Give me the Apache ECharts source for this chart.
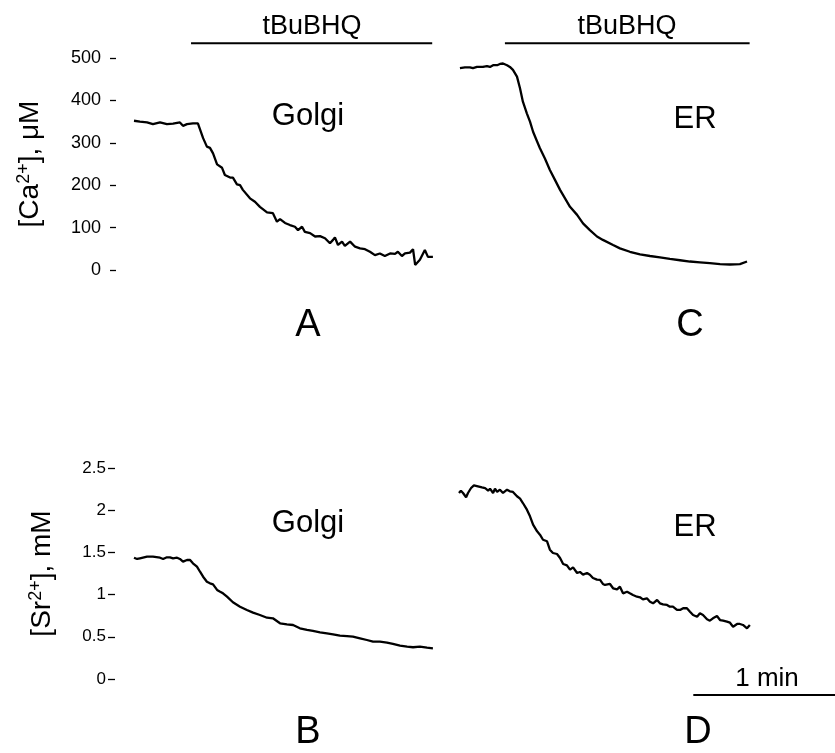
<!DOCTYPE html>
<html>
<head>
<meta charset="utf-8">
<script src="https://cdn.jsdelivr.net/npm/echarts@6/dist/echarts.min.js"></script>
<style>html,body{margin:0;padding:0;background:#fff}#c{width:835px;height:753px}</style>
</head>
<body>
<div id="c"></div>
<script>
// ---- data (time in s from trace start) ----
const timesA = [0,2.5,5.5,8.0,11.0,13.9,16.5,19.4,20.7,22.4,24.9,27.0,29.2,30.8,32.1,33.4,35.1,37.2,38.4,40.6,41.8,43.5,44.8,46.0,49.0,51.1,53.2,56.2,58.7,60.4,61.7,63.8,65.9,68.0,69.3,71.0,72.2,74.4,76.5,78.6,80.7,82.8,84.1,84.9,86.2,87.9,89.1,91.3,93.4,95.5,97.6,99.7,101.8,103.9,106.0,108.2,110.3,111.5,113.2,114.5,116.6,117.9,118.8,120.8,122.9,124.2,126.3];
const caGolgi = [352,350,348,344,348,344,345,348,340,344,346,346,311,291,288,275,249,241,224,218,218,202,200,189,169,161,149,136,134,114,120,111,106,102,94,102,90,87,79,80,75,63,71,77,59,67,57,67,55,51,49,43,35,39,33,39,38,43,33,39,41,49,12,24,47,31,31];

const timesC = [0.4,2.5,4.6,5.9,7.6,10.1,11.8,13.1,14.4,16.1,17.3,18.6,20.3,21.5,22.8,24.5,25.8,27.0,28.7,30.0,31.3,33.0,34.2,36.3,38.4,40.6,42.7,44.8,46.9,49.9,52.4,55.3,58.3,60.8,65.1,68.0,72.2,76.5,80.7,84.9,89.1,93.4,97.6,101.8,106.0,110.3,114.5,118.7,121.7];
const caER = [476,478,478,476,479,479,481,479,483,483,486,487,483,479,472,456,428,397,369,350,326,303,287,263,236,212,189,169,149,130,110,94,79,71,59,51,43,37,33,30,26,23,20,18,16,14,13,14,20];

const timesB = [0,1.3,2.5,5.5,8.0,11.0,12.3,13.9,15.2,16.5,18.2,19.4,20.7,22.4,23.7,24.9,26.6,27.9,29.2,30.8,32.1,33.4,35.1,36.4,37.6,39.3,41.8,44.8,47.7,50.3,53.2,56.2,58.7,61.7,64.6,67.2,70.1,73.1,75.6,78.6,81.5,84.1,87.0,90.0,92.5,95.5,98.4,101.0,103.9,106.9,109.4,112.4,115.4,117.9,120.8,123.8,126.3];
const srGolgi = [1.437,1.422,1.43,1.449,1.449,1.437,1.422,1.442,1.442,1.43,1.437,1.422,1.39,1.41,1.41,1.371,1.331,1.271,1.212,1.153,1.134,1.122,1.055,1.034,1.015,0.975,0.909,0.857,0.818,0.786,0.758,0.726,0.719,0.66,0.648,0.64,0.601,0.581,0.569,0.553,0.541,0.53,0.513,0.509,0.501,0.482,0.462,0.442,0.442,0.43,0.415,0.395,0.383,0.376,0.383,0.371,0.364];

const timesD = [0,0.8,1.7,3.0,3.8,5.1,6.3,8.0,9.7,11.0,12.3,13.1,14.4,15.2,16.1,17.3,18.6,20.3,21.5,22.8,24.5,25.8,27.0,28.7,30.0,31.3,33.0,34.2,35.5,37.2,38.4,39.7,41.4,42.7,44.0,45.6,46.9,48.2,49.9,51.1,52.4,54.1,55.3,56.6,58.3,59.6,60.8,61.7,63.8,65.1,66.8,68.0,69.3,71.0,72.2,73.5,75.2,76.5,77.7,79.4,80.7,82.0,83.7,84.9,86.2,87.9,89.1,90.4,92.1,93.4,94.7,96.3,97.6,98.9,100.6,101.8,103.1,104.8,106.0,107.3,109.0,110.3,111.6,113.2,114.5,115.8,117.5,118.7,120.0,121.7,122.9];
const srER = [2.204,2.231,2.204,2.153,2.204,2.263,2.295,2.283,2.271,2.263,2.231,2.255,2.204,2.255,2.216,2.243,2.204,2.243,2.224,2.216,2.165,2.136,2.085,2.006,1.928,1.828,1.75,1.71,1.65,1.632,1.532,1.493,1.481,1.434,1.363,1.347,1.295,1.323,1.256,1.268,1.236,1.256,1.236,1.197,1.177,1.175,1.126,1.114,1.126,1.075,1.063,1.094,1.015,1.034,1.015,0.995,0.975,0.968,0.944,0.956,0.916,0.897,0.936,0.897,0.885,0.877,0.857,0.857,0.818,0.818,0.838,0.838,0.797,0.758,0.738,0.778,0.758,0.707,0.691,0.719,0.746,0.699,0.691,0.679,0.667,0.62,0.652,0.652,0.64,0.601,0.64];

// tBuBHQ application bars [start, end] (s) and level
const tbuA = [24.1, 126.0];
const tbuC = [19.4, 122.8];
const tbuLevel = 535;
// 1 min scale bar (s) in panel D and its level
const scaleBar = [99, 159];
const scaleLevel = -0.19;

const caTicks = {min: 0, max: 500, interval: 100};
const srTicks = {min: 0, max: 2.5, interval: 0.5};

// ---- layout ----
const PX_PER_SEC = 142 / 60;
const FONT = '"Liberation Sans", Arial, Helvetica, sans-serif';
const TRACE_LEFT_L = 134, TRACE_LEFT_R = 459;
const AXIS_TOP = 116, AXIS_BOT = 115;
const X_END_L = 130, X_END_R = 160;

function zip(t, v) { return t.map((x, i) => [x, v[i]]); }

const chart = echarts.init(document.getElementById('c'), null, {renderer: 'canvas'});

const lineStyle = {color: '#000', width: 2.3};
function trace(idx, t, v) {
  return {type: 'line', xAxisIndex: idx, yAxisIndex: idx, data: zip(t, v), symbol: 'none',
    lineStyle: lineStyle, silent: true, animation: false, clip: false};
}
function bar(idx, r, level) {
  return {type: 'line', xAxisIndex: idx, yAxisIndex: idx, data: [[r[0], level], [r[1], level]],
    symbol: 'none', clip: false, lineStyle: {color: '#000', width: 2}, silent: true, animation: false};
}

function yAx(idx, ticks, show, opts) {
  return Object.assign({
    gridIndex: idx, type: 'value', min: ticks.min, max: ticks.max, interval: ticks.interval,
    show: show, splitLine: {show: false},
    axisLine: {show: false, onZero: false},
    axisTick: {show: true, inside: false, length: 6, lineStyle: {color: '#000', width: 1.3}},
  }, opts || {});
}

const xminTop = -(TRACE_LEFT_L - AXIS_TOP) / PX_PER_SEC;
const xminBot = -(TRACE_LEFT_L - AXIS_BOT) / PX_PER_SEC;

const text = (t, x, y, size) => ({type: 'text', x: x, y: y,
  style: {text: t, fill: '#000', font: size + 'px ' + FONT, textAlign: 'center', textVerticalAlign: 'middle'}});

const gridBase = {outerBoundsMode: 'none', containLabel: false};
chart.setOption({
  backgroundColor: '#fff',
  animation: false,
  grid: [
    Object.assign({left: AXIS_TOP, top: 58, width: (X_END_L - xminTop) * PX_PER_SEC, height: 212}, gridBase),
    Object.assign({left: TRACE_LEFT_R, top: 58, width: X_END_R * PX_PER_SEC, height: 212}, gridBase),
    Object.assign({left: AXIS_BOT, top: 468, width: (X_END_L - xminBot) * PX_PER_SEC, height: 211}, gridBase),
    Object.assign({left: TRACE_LEFT_R, top: 468, width: X_END_R * PX_PER_SEC, height: 211}, gridBase)
  ],
  xAxis: [
    {gridIndex: 0, type: 'value', min: xminTop, max: X_END_L, show: false, axisLine: {onZero: false}},
    {gridIndex: 1, type: 'value', min: 0, max: X_END_R, show: false, axisLine: {onZero: false}},
    {gridIndex: 2, type: 'value', min: xminBot, max: X_END_L, show: false, axisLine: {onZero: false}},
    {gridIndex: 3, type: 'value', min: 0, max: X_END_R, show: false, axisLine: {onZero: false}}
  ],
  yAxis: [
    yAx(0, caTicks, true, {
      axisLabel: {margin: 15, color: '#000', fontSize: 18, fontFamily: FONT},
      name: '{a|[Ca}{s|2+}{a|], μM}', nameLocation: 'middle', nameGap: 71, nameRotate: 90,
      nameTextStyle: {color: '#000', rich: {
        a: {fontSize: 28, fontFamily: FONT, color: '#000', lineHeight: 30},
        s: {fontSize: 18, fontFamily: FONT, color: '#000', verticalAlign: 'top', lineHeight: 18}
      }}
    }),
    yAx(1, caTicks, false),
    yAx(2, srTicks, true, {
      axisTick: {show: true, inside: false, length: 7, lineStyle: {color: '#000', width: 1.3}},
      axisLabel: {margin: 9, color: '#000', fontSize: 17, fontFamily: FONT},
      name: '{a|[Sr}{s|2+}{a|], mM}', nameLocation: 'middle', nameGap: 58, nameRotate: 90,
      nameTextStyle: {color: '#000', rich: {
        a: {fontSize: 28, fontFamily: FONT, color: '#000', lineHeight: 30},
        s: {fontSize: 18, fontFamily: FONT, color: '#000', verticalAlign: 'top', lineHeight: 18}
      }}
    }),
    yAx(3, srTicks, false)
  ],
  series: [
    trace(0, timesA, caGolgi),
    trace(1, timesC, caER),
    trace(2, timesB, srGolgi),
    trace(3, timesD, srER),
    bar(0, tbuA, tbuLevel),
    bar(1, tbuC, tbuLevel),
    bar(3, scaleBar, scaleLevel)
  ],
  graphic: [
    text('tBuBHQ', 312, 27, 27),
    text('tBuBHQ', 627, 27, 27),
    text('Golgi', 308, 116, 31),
    text('ER', 695, 119, 31),
    text('A', 308, 326, 38),
    text('C', 690, 326, 38),
    text('Golgi', 308, 523, 31),
    text('ER', 695, 527, 31),
    text('1 min', 767, 679, 26),
    text('B', 308, 733, 38),
    text('D', 698, 733, 38)
  ]
});
</script>
</body>
</html>
